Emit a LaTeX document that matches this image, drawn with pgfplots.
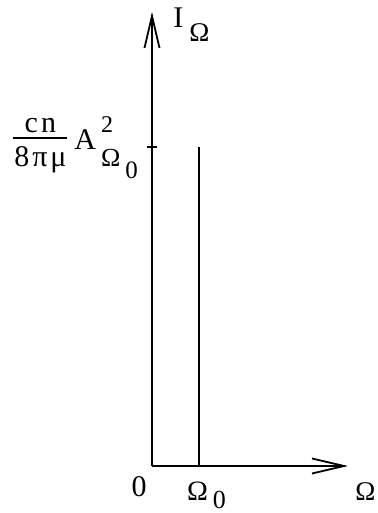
\documentclass[border=0pt]{standalone}
\usepackage{fontspec}
\setmainfont{Liberation Serif}
\usepackage{pgfplots}
\pgfplotsset{compat=1.18}
\usetikzlibrary{arrows.meta}

\newcommand{\fs}[1]{\fontsize{#1}{#1}\selectfont}

\begin{document}
\begin{tikzpicture}[every node/.style={inner sep=0pt, font=\fs{15}}]
\useasboundingbox (-76pt,-23.5pt) rectangle (112.5pt,233pt);
\begin{axis}[
  at={(0,0)}, anchor=south west,
  scale only axis, width=98pt, height=227pt,
  xmin=0, xmax=4.215, ymin=0, ymax=1.422,
  axis lines=left,
  axis line style={black, line width=0.9pt, -{Straight Barb[length=16pt,width=7.5pt]}},
  xtick=\empty, ytick={1}, yticklabels={},
  tick style={black, line width=0.9pt},
  tick align=center, major tick length=5.3pt,
  clip=false,
]
% single spectral line at Omega_0
\addplot[black, line width=0.95pt] coordinates {(1.01,0) (1.01,1)};

\node[anchor=base west, xshift=10.5pt, yshift=-8pt] at (rel axis cs:0,1) {I\kern3pt\raisebox{-7pt}{\fs{13.5}Ω}};
\node[anchor=base west, xshift=3.5pt, yshift=-17pt] at (rel axis cs:1,0) {\fs{13.5}Ω};
\node[anchor=base east, xshift=-2.5pt, yshift=-15pt] at (axis cs:0,0) {0};
\node[anchor=base, xshift=-0.5pt, yshift=-17pt] at (axis cs:1,0) {\fs{14}Ω\rlap{\kern2.5pt\raisebox{-4.3pt}{\fs{13}0}}};
\node[anchor=base west, xshift=-69.5pt, yshift=-1.2pt] at (axis cs:0,1)
  {\rlap{\raisebox{8.5pt}{\makebox[27pt][c]{c\kern1.5pt n}}}%
   \rlap{\rule[5.15pt]{27pt}{0.7pt}}%
   \raisebox{-8.5pt}{\makebox[27pt][c]{8\kern1.5pt π\kern1.5pt μ}}%
   \kern3.5pt A\kern2.5pt%
   \rlap{\raisebox{8.5pt}{\fs{12}2}}\raisebox{-8.5pt}{\fs{13}Ω}%
   \kern2.5pt\raisebox{-14.5pt}{\fs{12.5}0}};
\end{axis}
\end{tikzpicture}
\end{document}
